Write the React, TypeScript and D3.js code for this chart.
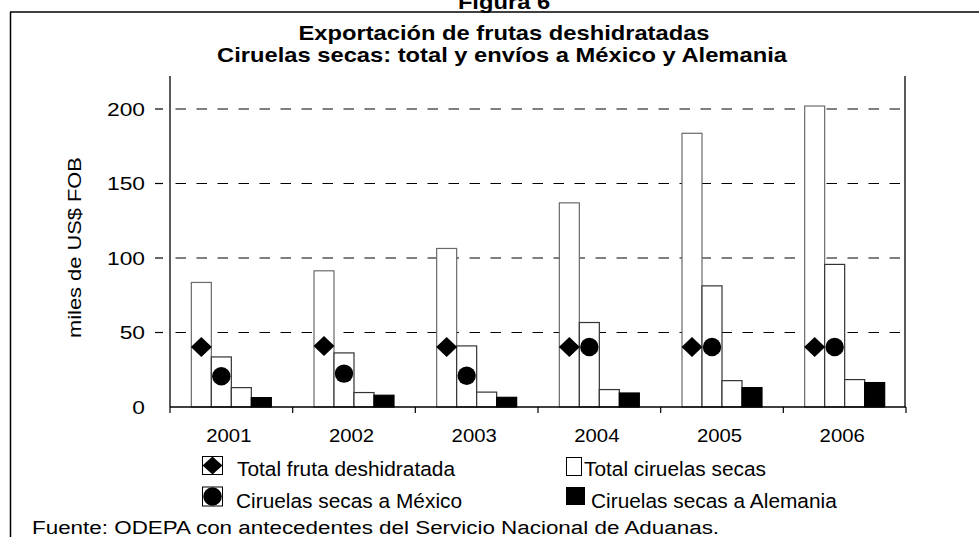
import * as d3 from "d3";

// years on the x axis
const years = ["2001", "2002", "2003", "2004", "2005", "2006"];
// four columns per year, left to right (miles de US$ FOB)
const colFirst = [83.6, 91.4, 106.4, 137, 183.7, 202];
const colSecond = [33.6, 36.3, 41, 56.7, 81.3, 95.7];
const colThird = [13, 9.7, 10, 11.7, 17.7, 18.4];
const colAlemania = [6.3, 7.9, 6.5, 9.4, 13, 16.4];
// marker series
const totalFruta = [40.3, 41, 40.3, 40.3, 40.3, 40.3];
const mexico = [20.6, 22.4, 21, 40.3, 40.3, 40.3];
const yTicks = [0, 50, 100, 150, 200];

const W = 979, H = 537;
const font = "'Liberation Sans', Arial, sans-serif";

function T({ x, y, size, sx = 1, anchor = "start", bold = false, rotate = 0, children }: any) {
  return (
    <text
      transform={`translate(${x},${y}) rotate(${rotate}) scale(${sx},1)`}
      fontSize={size}
      fontFamily={font}
      fontWeight={bold ? "bold" : "normal"}
      textAnchor={anchor}
      fill="#000"
    >
      {children}
    </text>
  );
}

export default function App() {
  const left = 170, right = 906, top = 76, bottom = 407;
  const y = d3.scaleLinear().domain([0, 200]).range([bottom, 109]);
  const step = (right - left) / years.length;
  const p = 1 - 80 / step;
  const x = d3.scaleBand().domain(years).range([left, right]).paddingInner(p).paddingOuter(p / 2);
  const cols = [colFirst, colSecond, colThird, colAlemania];
  const inner = d3.scaleBand().domain(d3.range(cols.length).map(String)).range([0, x.bandwidth()]);
  const bw = inner.bandwidth();
  const colStroke = ["#6a6a6a", "#333", "#333", "#000"];
  const colFill = ["#fff", "#fff", "#fff", "#000"];

  const diamond = (cx: number, cy: number, hw: number, hh: number) =>
    d3.line()([[cx, cy - hh], [cx + hw, cy], [cx, cy + hh], [cx - hw, cy]])! + "Z";

  const boundaries = d3.range(years.length + 1).map((i) => left + i * step);
  const cx = 504;

  return (
    <svg width={W} height={H} style={{ position: "absolute", left: 0, top: 0, background: "#fff" }}>
      <rect width={W} height={H} fill="#fff" />
      {/* outer frame */}
      <line x1={10} x2={W} y1={12} y2={12} stroke="#000" strokeWidth={1.5} />
      <line x1={10.5} x2={10.5} y1={12} y2={H} stroke="#000" strokeWidth={1.5} />

      <T x={cx} y={9} size={21} sx={1.13} anchor="middle" bold>Figura 6</T>
      <T x={cx} y={40} size={21} sx={1.13} anchor="middle" bold>Exportación de frutas deshidratadas</T>
      <T x={cx - 2} y={62} size={21} sx={1.13} anchor="middle" bold>Ciruelas secas: total y envíos a México y Alemania</T>

      {/* gridlines and y labels */}
      {yTicks.map((t) => (
        <g key={t}>
          {t > 0 && (
            <>
              <line x1={155} x2={163} y1={y(t)} y2={y(t)} stroke="#000" strokeWidth={1.2} />
              <line x1={175.5} x2={right - 1} y1={y(t)} y2={y(t)} stroke="#000" strokeWidth={1.2} strokeDasharray="10.5,10.5" />
            </>
          )}
          <T x={145} y={y(t) + 6.5} size={19} sx={1.2} anchor="end">{t}</T>
        </g>
      ))}

      {/* columns */}
      {years.map((yr, i) => (
        <g key={yr} transform={`translate(${x(yr)},0)`}>
          {cols.map((c, k) => (
            <rect
              key={k}
              x={inner(String(k))!}
              y={y(c[i])}
              width={bw}
              height={y(0) - y(c[i])}
              fill={colFill[k]}
              stroke={colStroke[k]}
              strokeWidth={1.2}
            />
          ))}
        </g>
      ))}

      {/* axes */}
      <line x1={left} x2={left} y1={top} y2={bottom} stroke="#000" strokeWidth={1.3} />
      <line x1={right - 1} x2={right - 1} y1={top} y2={bottom} stroke="#000" strokeWidth={1.3} />
      <line x1={left} x2={right} y1={bottom} y2={bottom} stroke="#000" strokeWidth={1.3} />
      {boundaries.map((b, i) => (
        <line key={i} x1={b} x2={b} y1={bottom} y2={bottom + 6} stroke="#000" strokeWidth={1.2} />
      ))}

      {/* markers */}
      {years.map((yr, i) => (
        <g key={yr}>
          <path d={diamond(x(yr)! + inner("0")! + bw / 2, y(totalFruta[i]), 10.5, 10)} fill="#000" />
          <circle cx={x(yr)! + inner("1")! + bw / 2} cy={y(mexico[i])} r={9.2} fill="#000" />
        </g>
      ))}

      {/* x labels */}
      {years.map((yr) => (
        <T key={yr} x={x(yr)! + x.bandwidth() / 2 - 2.5} y={442} size={19} sx={1.07} anchor="middle">{yr}</T>
      ))}

      {/* y title */}
      <T x={81} y={247.5} size={19} sx={1.15} anchor="middle" rotate={-90}>miles de US$ FOB</T>

      {/* legend */}
      <rect x={202.5} y={456.5} width={20} height={18} fill="#fff" stroke="#000" strokeWidth={1} />
      <path d={diamond(212.5, 465.5, 10, 9)} fill="#000" />
      <T x={237} y={475.5} size={19.5} sx={1.07}>Total fruta deshidratada</T>

      <rect x={202.5} y={487} width={20} height={19} fill="#fff" stroke="#000" strokeWidth={1} />
      <circle cx={212.5} cy={496.5} r={9.3} fill="#000" />
      <T x={236} y={507.5} size={19.5} sx={1.07}>Ciruelas secas a México</T>

      <rect x={566.5} y={457.5} width={15} height={18} fill="#fff" stroke="#000" strokeWidth={1} />
      <T x={584} y={475.5} size={19.5} sx={1.07}>Total ciruelas secas</T>

      <rect x={566} y={487} width={19} height={18} fill="#000" />
      <T x={591} y={507.5} size={19.5} sx={1.07}>Ciruelas secas a Alemania</T>

      {/* source */}
      <T x={32} y={534} size={19} sx={1.18}>Fuente: ODEPA con antecedentes del Servicio Nacional de Aduanas.</T>
    </svg>
  );
}
